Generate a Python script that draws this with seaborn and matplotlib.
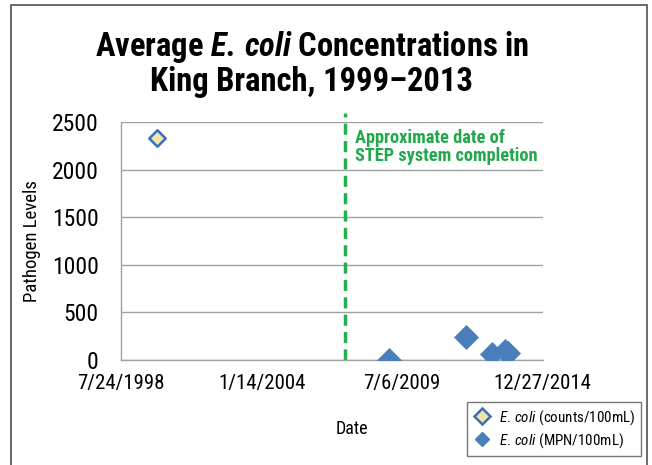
import pandas as pd
import matplotlib.pyplot as plt
from matplotlib.lines import Line2D
from matplotlib.patches import Rectangle
import seaborn as sns

# data
counts_dates = ['1999-12-20']
counts_vals = [2330]
mpn_dates = ['2009-01-02', '2012-01-04', '2012-12-29', '2013-07-07', '2013-08-20']
mpn_vals = [5, 245, 60, 90, 70]
step_date = '2007-04-19'
tick_dates = ['1998-07-24', '2004-01-14', '2009-07-06', '2014-12-27']
tick_labels = ['7/24/1998', '1/14/2004', '7/6/2009', '12/27/2014']
y_ticks = [0, 500, 1000, 1500, 2000, 2500]

sns.set_style('white')
cond = 'Roboto Condensed'
plt.rcParams['font.family'] = [cond, 'DejaVu Sans']
plt.rcParams['text.color'] = 'black'
plt.rcParams['axes.labelcolor'] = 'black'
plt.rcParams['mathtext.fontset'] = 'custom'
plt.rcParams['mathtext.rm'] = cond
plt.rcParams['mathtext.it'] = cond + ':italic'
plt.rcParams['mathtext.bf'] = cond + ':bold'
plt.rcParams['mathtext.bfit'] = cond + ':bold:italic'

counts = pd.DataFrame({'date': pd.to_datetime(counts_dates), 'val': counts_vals})
mpn = pd.DataFrame({'date': pd.to_datetime(mpn_dates), 'val': mpn_vals})

fig = plt.figure(figsize=(6.52, 4.65), dpi=100)
ax = fig.add_axes([0.1856, 0.2258, 0.6468, 0.5112])

blue = '#4a7ebb'
sns.scatterplot(data=mpn, x='date', y='val', ax=ax, marker='D', s=150,
                color=blue, edgecolor=blue, linewidth=0.5, zorder=3)
sns.scatterplot(data=counts, x='date', y='val', ax=ax, marker='D', s=70,
                color='#f2e6a6', edgecolor='#3a6fc0', linewidth=1.8, zorder=3)

# STEP completion line
ax.axvline(pd.to_datetime(step_date), ymin=0, ymax=1.04, clip_on=False,
           color='#22b14c', lw=2.5, ls=(0, (3.2, 1.8)), zorder=2)
ax.text(0.555, 0.895, 'Approximate date of\nSTEP system completion', transform=ax.transAxes,
        color='#22a84a', fontsize=13.2, fontweight='bold', va='center', ha='left',
        linespacing=1.0)

ax.set_xlim(pd.to_datetime(tick_dates[0]), pd.to_datetime(tick_dates[-1]))
ax.set_xticks(pd.to_datetime(tick_dates))
ax.set_xticklabels(tick_labels, fontsize=15)
ax.set_ylim(0, 2500)
ax.set_yticks(y_ticks)
ax.set_yticklabels([str(v) for v in y_ticks], fontsize=17)
ax.yaxis.grid(True, color='#a0a0a0', lw=1)
ax.set_axisbelow(True)

for s in ['top', 'right']:
    ax.spines[s].set_visible(False)
for s in ['left', 'bottom']:
    ax.spines[s].set_color('#a0a0a0')
    ax.spines[s].set_linewidth(1)
ax.tick_params(axis='both', direction='out', color='#a0a0a0', labelcolor='black', width=1, length=6)
ax.tick_params(axis='y', pad=10)
ax.tick_params(axis='x', pad=4)

ax.set_xlabel('Date', fontsize=13)
ax.set_ylabel('Pathogen Levels', fontsize=13.5)
ax.xaxis.set_label_coords(0.548, -0.252)
ax.yaxis.set_label_coords(-0.19, 0.5)

fig.text(0.478, 0.898, r'Average $\mathbfit{E.\,coli}$ Concentrations in', ha='center', va='center',
         fontsize=23.5, fontweight='bold')
fig.text(0.478, 0.823, 'King Branch, 1999\u20132013', ha='center', va='center',
         fontsize=23.5, fontweight='bold')

handles = [
    Line2D([], [], ls='none', marker='D', markersize=8, markerfacecolor='#f2e6a6',
           markeredgecolor='#3a6fc0', markeredgewidth=1.8),
    Line2D([], [], ls='none', marker='D', markersize=7, color=blue),
]
labels = [r'$\it{E.\,coli}$ (counts/100mL)', r'$\it{E.\,coli}$ (MPN/100mL)']
leg = fig.legend(handles, labels, loc='upper right', bbox_to_anchor=(0.983, 0.1355),
                 fontsize=10.8, frameon=True, fancybox=False, edgecolor='#555555', borderaxespad=0,
                 handletextpad=0.5, borderpad=0.4, labelspacing=0.3, handlelength=1.2)
leg.get_frame().set_linewidth(1)

fig.patches.append(Rectangle((11 / 652, -0.1), 636 / 652, 1.1 - 5 / 465, transform=fig.transFigure,
                             fill=False, edgecolor='#505050', lw=1.2))

fig.savefig('out.png', dpi=100)
